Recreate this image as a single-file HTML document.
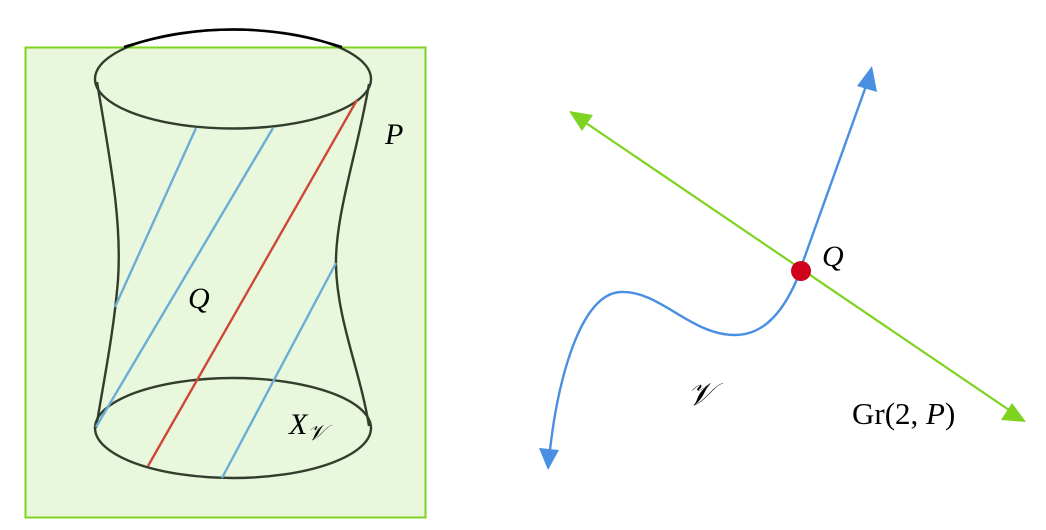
<!DOCTYPE html>
<html><head><style>body{margin:0;background:#fff}svg{display:block}</style></head><body>
<svg width="1046" height="530" xmlns="http://www.w3.org/2000/svg" font-family="Liberation Serif, serif">
<rect x="25.5" y="47.5" width="400" height="470" fill="#e9f7dd" stroke="#7ed321" stroke-width="2"/>
<g fill="none" stroke="#333d2c" stroke-width="2.4">
<ellipse cx="233" cy="79" rx="138" ry="49.5"/>
<ellipse cx="233" cy="428" rx="138" ry="50"/>
<path d="M97,82 C110,160 122,220 118,280 C114,330 104,380 96,428"/>
<path d="M369,84 C358,150 335,215 336,265 C337,320 360,370 369,426"/>
</g>
<path d="M124,47 Q233,12 342,47" fill="none" stroke="#000" stroke-width="2.4"/>
<g stroke="#6aaed6" stroke-width="2.4">
<line x1="196" y1="128" x2="115" y2="307"/>
<line x1="273" y1="128" x2="96" y2="427"/>
<line x1="336" y1="263" x2="222" y2="478"/>
</g>
<line x1="357" y1="100" x2="148" y2="466" stroke="#d0473a" stroke-width="2.4"/>
<text x="385" y="144" font-size="30" font-style="italic">P</text>
<text x="188" y="308" font-size="30" font-style="italic">Q</text>
<text x="289" y="434" font-size="30" font-style="italic">X<tspan font-size="22" dy="6">𝒱</tspan></text>

<line x1="586" y1="123" x2="1012" y2="412" stroke="#7ed321" stroke-width="2.2"/>
<path d="M569,111 L593,115 L582,131 z" fill="#7ed321"/>
<path d="M1026,422 L1001,420 L1012,403 z" fill="#7ed321"/>
<line x1="800" y1="270" x2="866" y2="86" stroke="#4a90e2" stroke-width="2.4"/>
<path d="M872,66 L877,92 L857,86 z" fill="#4a90e2"/>
<path d="M800,272 C785,310 765,335 735,335 C690,335 660,290 620,292 C580,295 558,380 550,450" fill="none" stroke="#4a90e2" stroke-width="2.4"/>
<path d="M548,470 L539,448 L559,450 z" fill="#4a90e2"/>
<circle cx="801" cy="271" r="10" fill="#d0021b"/>
<text x="822" y="266" font-size="30" font-style="italic">Q</text>
<text x="687" y="405" font-size="32" font-style="italic">𝒱</text>
<text x="852" y="424" font-size="31">Gr(2, <tspan font-style="italic">P</tspan>)</text>
</svg>
</body></html>
